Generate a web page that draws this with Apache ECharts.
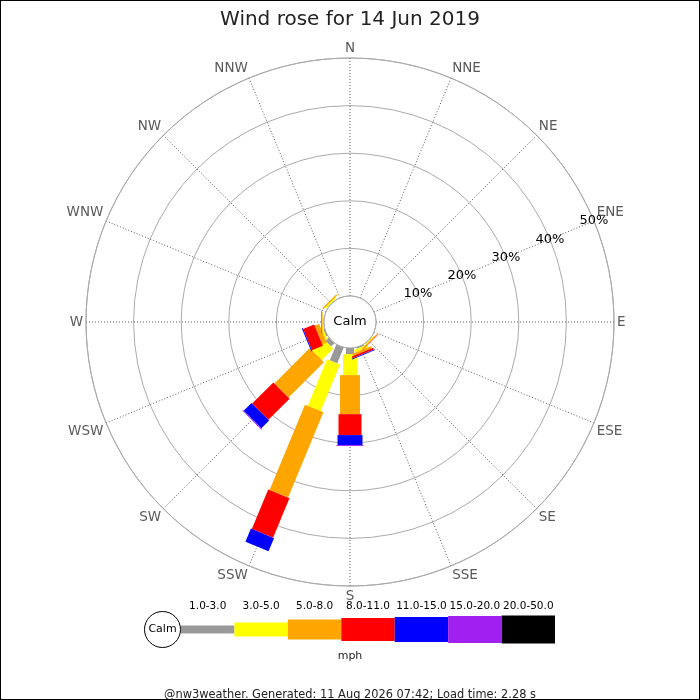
<!DOCTYPE html>
<html>
<head>
<meta charset="utf-8">
<script src="https://cdn.jsdelivr.net/npm/echarts@6/dist/echarts.min.js"></script>
<style>
  body { margin: 0; background: #fff; }
  #frame { width: 698px; height: 698px; border: 1px solid #000; }
  #chart { width: 698px; height: 698px; }
</style>
</head>
<body>
<div id="frame"><div id="chart"></div></div>
<script>
// Compass points, clockwise from north
const directions = ['N', 'NNE', 'NE', 'ENE', 'E', 'ESE', 'SE', 'SSE',
                    'S', 'SSW', 'SW', 'WSW', 'W', 'WNW', 'NW', 'NNW'];
const dirAngles = [0, 22.5, 45, 67.5, 90, 112.5, 135, 157.5,
                   180, 202.5, 225, 247.5, 270, 292.5, 315, 337.5];

// Speed bins (mph)
const speedBins = ['1.0-3.0', '3.0-5.0', '5.0-8.0', '8.0-11.0', '11.0-15.0', '15.0-20.0', '20.0-50.0'];

// % of time per direction for each speed bin (N..NNW)
const speed1to3   = [0, 0, 0, 0, 0, 0, 0.1, 0.3, 1.3, 3.6, 1.0, 0.3, 0.1, 0, 0.1, 0];
const speed3to5   = [0, 0, 0, 0, 0, 0, 0.2, 0.6, 4.4, 10.6, 3.4, 0.4, 0.2, 0, 0.3, 0];
const speed5to8   = [0, 0, 0, 0, 0, 0, 0.2, 0.5, 8.2, 19.4, 10.5, 1.0, 0.2, 0, 0.3, 0];
const speed8to11  = [0, 0, 0, 0, 0, 0, 0.1, 0.4, 4.4, 9.0, 6.3, 2.5, 0.1, 0, 0, 0];
const speed11to15 = [0, 0, 0, 0, 0, 0, 0, 0.2, 2.1, 3.0, 2.3, 0.2, 0, 0, 0, 0];
const speed15to20 = [0, 0, 0, 0, 0, 0, 0, 0, 0.2, 0, 0.2, 0, 0, 0, 0, 0];
const speed20to50 = [0, 0, 0, 0, 0, 0, 0, 0, 0, 0, 0, 0, 0, 0, 0, 0];

// radial tick values (%)
const radialTicks = [0, 10, 20, 30, 40, 50];

const binValues = [speed1to3, speed3to5, speed5to8, speed8to11, speed11to15, speed15to20, speed20to50];

// styling
const binColors = ['#999999', '#ffff00', '#ffa500', '#ff0000', '#0000ff', '#a020f0', '#000000'];
const barWidths = [8, 14, 20, 23, 25, 27, 28]; // px, thicker for faster winds
const FONT = 'DejaVu Sans';
const CENTER = [349, 321];
const RADIUS = [26, 264];

const chart = echarts.init(document.getElementById('chart'));

// rectangle of fixed pixel width running out along a direction
function makeRenderItem(width, color) {
  return function (params, api) {
    const a = api.value(0), s = api.value(1), e = api.value(2);
    if (!(e > s)) return;
    const cs = params.coordSys;
    const p0 = api.coord([s, a]);
    const p1 = api.coord([e, a]);
    const dx = p1[0] - cs.cx, dy = p1[1] - cs.cy;
    const len = Math.sqrt(dx * dx + dy * dy);
    const nx = -dy / len * width / 2, ny = dx / len * width / 2;
    return {
      type: 'polygon',
      shape: { points: [
        [p0[0] + nx, p0[1] + ny], [p1[0] + nx, p1[1] + ny],
        [p1[0] - nx, p1[1] - ny], [p0[0] - nx, p0[1] - ny]
      ] },
      style: { fill: color }
    };
  };
}

// stack the bins outward for each direction
const cumulative = directions.map(() => 0);
const roseSeries = binValues.map((vals, b) => {
  const data = vals.map((v, i) => {
    const start = cumulative[i];
    cumulative[i] += v;
    return [dirAngles[i], start, cumulative[i]];
  });
  return {
    name: speedBins[b],
    type: 'custom',
    coordinateSystem: 'polar',
    polarIndex: 0,
    encode: { angle: 0, radius: [1, 2] },
    z: 3,
    silent: true,
    renderItem: makeRenderItem(barWidths[b], binColors[b]),
    data: data
  };
});

const option = {
  animation: false,
  title: [
    {
      text: 'Wind rose for 14 Jun 2019',
      left: 'center', top: 4,
      textStyle: { fontFamily: FONT, fontSize: 20, fontWeight: 'normal', color: '#222' }
    },
    {
      text: 'mph',
      left: 'center', top: 645,
      textStyle: { fontFamily: FONT, fontSize: 11, fontWeight: 'normal', color: '#222' }
    },
    {
      text: '@nw3weather. Generated: 11 Aug 2026 07:42; Load time: 2.28 s',
      left: 'center', top: 684,
      textStyle: { fontFamily: FONT, fontSize: 11.4, fontWeight: 'normal', color: '#222' }
    }
  ],
  polar: [
    { center: CENTER, radius: RADIUS },
    { center: CENTER, radius: RADIUS }
  ],
  angleAxis: [
    {
      polarIndex: 0,
      type: 'value', min: 0, max: 360, interval: 22.5,
      startAngle: 90, clockwise: true,
      axisLine: { show: true, lineStyle: { color: '#aaaaaa', width: 1 } },
      axisTick: { show: false },
      axisLabel: {
        margin: 3, color: '#5a5a5a', fontFamily: FONT, fontSize: 13.5,
        formatter: (v) => directions[Math.round(v / 22.5) % 16]
      },
      splitLine: { show: true, lineStyle: { color: '#333', width: 0.8, type: [1, 2] } }
    },
    {
      // only used to put the % labels along the ENE spoke
      polarIndex: 1,
      type: 'value', min: 0, max: 360, startAngle: 22.5, show: false
    }
  ],
  radiusAxis: [
    {
      polarIndex: 0,
      type: 'value', min: radialTicks[0], max: radialTicks[radialTicks.length - 1], interval: 10,
      axisLine: { show: false }, axisTick: { show: false }, axisLabel: { show: false },
      splitLine: { show: true, lineStyle: { color: '#aaaaaa', width: 1 } }
    },
    {
      polarIndex: 1,
      type: 'value', min: radialTicks[0], max: radialTicks[radialTicks.length - 1], interval: 10,
      axisLine: { show: false }, axisTick: { show: false }, splitLine: { show: false },
      axisLabel: {
        showMinLabel: false, margin: 0, align: 'center', verticalAlign: 'middle',
        color: '#000', fontFamily: FONT, fontSize: 13,
        formatter: '{value}%'
      }
    }
  ],
  grid: { left: 180, width: 374, top: 614, height: 29 },
  xAxis: {
    type: 'category', data: speedBins, position: 'top',
    axisLine: { show: false }, axisTick: { show: false },
    axisLabel: { interval: 0, margin: 3, color: '#000', fontFamily: FONT, fontSize: 10.5 }
  },
  yAxis: { type: 'value', min: -1, max: 1, show: false },
  graphic: [
    {
      type: 'group', left: 143, top: 610,
      children: [
        { type: 'circle', shape: { cx: 18.5, cy: 18.5, r: 18 }, style: { fill: '#fff', stroke: '#000', lineWidth: 1 } },
        { type: 'text', style: { text: 'Calm', x: 18.5, y: 18.5, align: 'center', verticalAlign: 'middle',
          fontFamily: FONT, fontSize: 11, fill: '#000' } }
      ]
    }
  ],
  series: roseSeries.concat([
    {
      // calm circle drawn over the inner ends of the bars
      type: 'custom', coordinateSystem: 'polar', polarIndex: 0, z: 5, silent: true,
      data: [[0, 0, 0]],
      renderItem: (params, api) => {
        const cs = params.coordSys;
        return {
          type: 'group',
          children: [
            { type: 'circle', shape: { cx: cs.cx, cy: cs.cy, r: cs.r0 },
              style: { fill: '#fff', stroke: '#aaaaaa', lineWidth: 1 } },
            { type: 'text', style: { text: 'Calm', x: cs.cx, y: cs.cy, align: 'center', verticalAlign: 'middle',
              fontFamily: FONT, fontSize: 13, fill: '#000' } }
          ]
        };
      }
    },
    {
      // speed scale
      type: 'custom', coordinateSystem: 'cartesian2d', silent: true,
      data: speedBins.map((b, i) => [i, 0]),
      renderItem: (params, api) => {
        const i = api.value(0);
        const c = api.coord([i, 0]);
        const bw = api.size([1, 0])[0];
        const h = barWidths[i];
        return { type: 'rect', shape: { x: c[0] - bw / 2, y: c[1] - h / 2, width: bw, height: h },
                 style: { fill: binColors[i] } };
      }
    }
  ])
};

chart.setOption(option);
</script>
</body>
</html>
